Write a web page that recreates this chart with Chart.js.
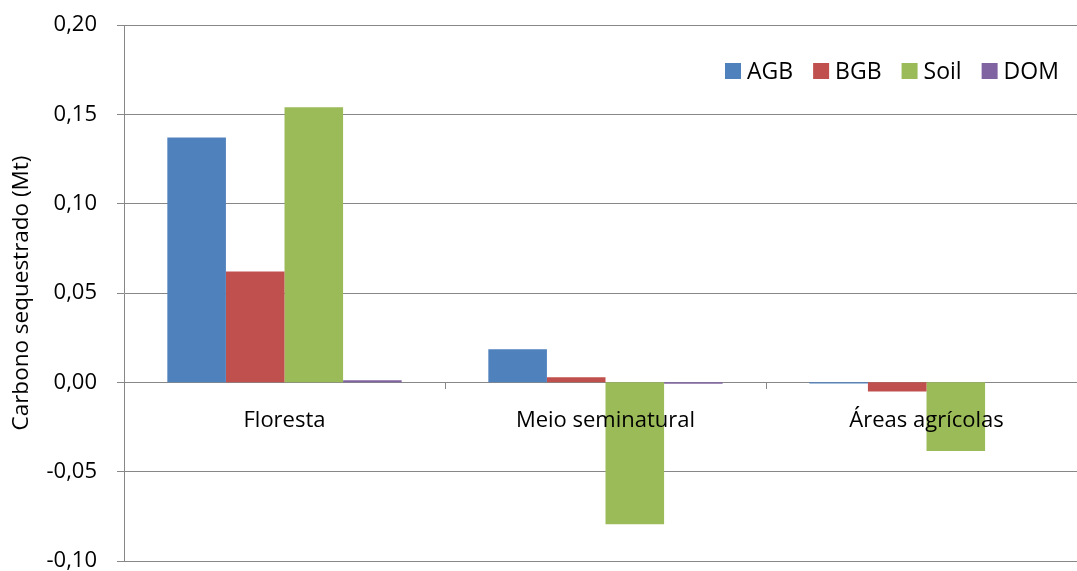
<!DOCTYPE html>
<html>
<head>
<meta charset="utf-8">
<script src="https://cdn.jsdelivr.net/npm/chart.js@4/dist/chart.umd.min.js"></script>
<style>
  html, body { margin: 0; padding: 0; background: #fff; overflow: hidden; }
  #wrap { width: 1077px; height: 571px; overflow: hidden; position: relative; }
  #box { width: 1087px; height: 571px; position: absolute; left: 0; top: 0; }
</style>
</head>
<body>
<div id="wrap"><div id="box"><canvas id="c" width="1087" height="571"></canvas></div></div>
<script>
// Carbon sequestered by land-cover class and carbon pool (Mt)
const categories = ['Floresta', 'Meio seminatural', 'Áreas agrícolas'];
const seriesNames = ['AGB', 'BGB', 'Soil', 'DOM'];
const agb  = [0.137, 0.0185, -0.0006];
const bgb  = [0.062, 0.0028, -0.0052];
const soil = [0.154, -0.0795, -0.0385];
const dom  = [0.0012, -0.0008, 0];
const seriesColors = ['#4F81BD', '#C0504D', '#9BBB59', '#8064A2'];
const yMin = -0.10, yMax = 0.20, yStep = 0.05;

const FONT = '"Open Sans", sans-serif';
const GRID = '#878787';

// Horizontal legend drawn in the upper right of the plot
const legendPlugin = {
  id: 'topLegend',
  afterDraw(chart) {
    const ctx = chart.ctx;
    ctx.save();
    ctx.font = '23px ' + FONT;
    ctx.textBaseline = 'middle';
    let x = 725;
    const yc = 71;
    chart.data.datasets.forEach(ds => {
      ctx.fillStyle = ds.backgroundColor;
      ctx.fillRect(x, yc - 8, 16, 16);
      x += 22;
      ctx.fillStyle = '#000';
      ctx.fillText(ds.label, x, yc + 1);
      x += ctx.measureText(ds.label).width + 20;
    });
    ctx.restore();
  }
};

const values = [agb, bgb, soil, dom];
new Chart(document.getElementById('c'), {
  type: 'bar',
  data: {
    labels: categories,
    datasets: seriesNames.map((n, i) => ({
      label: n,
      data: values[i],
      backgroundColor: seriesColors[i],
      borderWidth: 0,
      barPercentage: 1.0,
      categoryPercentage: 0.73
    }))
  },
  options: {
    responsive: false,
    animation: false,
    layout: { padding: { top: 25, right: 0, bottom: 10, left: 0 } },
    plugins: { legend: { display: false }, tooltip: { enabled: false } },
    scales: {
      x: {
        position: { y: 0 },
        afterFit(s) { s.height = 0; },
        grid: { display: true, drawOnChartArea: false, drawTicks: true, tickLength: 6, color: GRID, offset: true },
        border: { display: true, color: GRID },
        ticks: { z: 1, color: '#000', font: { family: FONT, size: 22 }, padding: 19, maxRotation: 0 }
      },
      y: {
        min: yMin, max: yMax,
        afterFit(s) { s.width = 124; s.paddingTop = 0; s.paddingBottom = 0; },
        grid: { color: GRID, tickLength: 7, drawTicks: true },
        border: { display: true, color: GRID },
        ticks: {
          stepSize: yStep,
          color: '#000',
          font: { family: FONT, size: 22 },
          padding: 20,
          callback: v => v.toFixed(2).replace('.', ',')
        },
        title: {
          display: true,
          text: 'Carbono sequestrado (Mt)',
          color: '#000',
          font: { family: FONT, size: 22.5 },
          padding: { top: 8, bottom: 0 }
        }
      }
    }
  },
  plugins: [legendPlugin]
});
</script>
</body>
</html>
